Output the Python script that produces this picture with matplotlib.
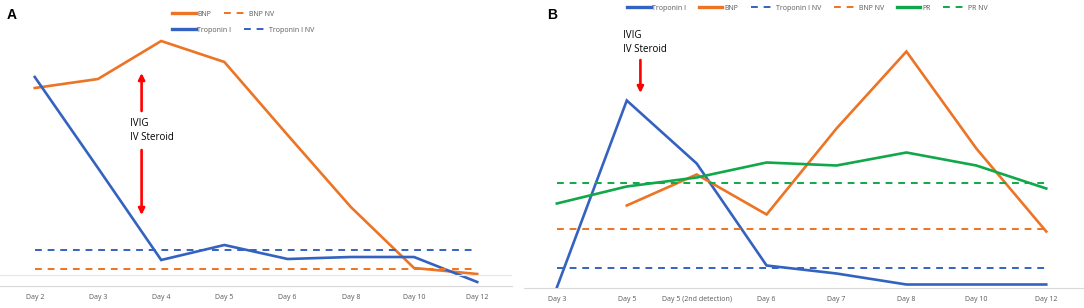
import matplotlib
matplotlib.use("Agg")
from matplotlib import pyplot as plt
from matplotlib.lines import Line2D
import numpy as np

plt.rcParams['font.family'] = ['Open Sans', 'DejaVu Sans']

# Panel A data (arbitrary units)
days_a = ['Day 2', 'Day 3', 'Day 4', 'Day 5', 'Day 6', 'Day 8', 'Day 10', 'Day 12']
bnp_a = [198, 207, 245, 224, 151, 79, 18, 12]
tropo_a = [209, 118, 26, 41, 27, 29, 29, 4]
tropo_nv_a = 36
bnp_nv_a = 17

# Panel B data
days_b = ['Day 3', 'Day 5', 'Day 5 (2nd detection)', 'Day 6', 'Day 7', 'Day 8', 'Day 10', 'Day 12']
tropo_b = [0, 187, 124, 22, 14, 3, 3, 3]
bnp_b = [np.nan, 82, 113, 73, 159, 236, 139, 56]
pr_b = [84, 101, 110, 125, 122, 135, 122, 99]
tropo_nv_b = 20
bnp_nv_b = 59
pr_nv_b = 105

BLUE = '#3462C0'
ORANGE = '#EC7424'
GREEN = '#10A84A'
RED = '#FF0000'
W, H = 1084, 308

fig = plt.figure(figsize=(W / 100, H / 100), dpi=100)


def px_axes(x0, x1, ytop, ybot):
    return fig.add_axes([x0 / W, 1 - ybot / H, (x1 - x0) / W, (ybot - ytop) / H])


def style(ax, labels, xlim, ytop):
    x = np.arange(len(labels))
    ax.set_xticks(x)
    ax.set_xticklabels(labels, fontsize=5, color='#595959')
    ax.tick_params(axis='x', length=0, pad=6)
    ax.set_yticks([])
    ax.set_xlim(xlim)
    ax.set_ylim(0, ytop)
    for s in ['top', 'right', 'left']:
        ax.spines[s].set_visible(False)
    ax.spines['bottom'].set_color('#D9D9D9')
    ax.spines['bottom'].set_linewidth(0.8)
    ax.patch.set_alpha(0)


dash = (3.5, 3)
arrow_kw = dict(arrowstyle='-|>', color=RED, lw=1.9, mutation_scale=9, shrinkA=0, shrinkB=0)

# ---- Panel A
axa = px_axes(0, 512, 5, 286)
xa = np.arange(len(days_a))
axa.plot(xa, bnp_a, color=ORANGE, lw=1.9, solid_joinstyle='miter')
axa.plot(xa, tropo_a, color=BLUE, lw=1.9, solid_joinstyle='miter')
axa.plot([0, 7], [tropo_nv_a] * 2, color=BLUE, lw=1.4, dashes=dash)
axa.plot([0, 7], [bnp_nv_a] * 2, color=ORANGE, lw=1.4, dashes=dash)
axa.axhline(11, color='#E6E6E6', lw=0.8)
style(axa, days_a, (-0.55, 7.55), 281)

arrow_x = 1.69
axa.annotate('', xy=(arrow_x, 286 - 73), xytext=(arrow_x, 286 - 111), arrowprops=arrow_kw)
axa.annotate('', xy=(arrow_x, 286 - 215), xytext=(arrow_x, 286 - 150), arrowprops=arrow_kw)
axa.text(1.50, 286 - 123, 'IVIG', fontsize=7, va='center', ha='left')
axa.text(1.50, 286 - 137, 'IV Steroid', fontsize=7, va='center', ha='left')

leg_kw = dict(fontsize=5, frameon=False, handlelength=3.4, handletextpad=0.25,
              columnspacing=1.8, labelcolor='#595959', borderaxespad=0, borderpad=0)
fig.legend(handles=[Line2D([], [], color=ORANGE, lw=2.4),
                    Line2D([], [], color=ORANGE, lw=1.4, dashes=dash)],
           labels=['BNP', 'BNP NV'], ncol=2, loc='center left',
           bbox_to_anchor=(172 / W, 1 - 14 / H), **leg_kw)
fig.legend(handles=[Line2D([], [], color=BLUE, lw=2.4),
                    Line2D([], [], color=BLUE, lw=1.4, dashes=dash)],
           labels=['Troponin I', 'Troponin I NV'], ncol=2, loc='center left',
           bbox_to_anchor=(172 / W, 1 - 30 / H), **leg_kw)

fig.text(7 / W, 1 - 15 / H, 'A', fontsize=10, fontweight='bold', va='center',
         family='Liberation Sans')

# ---- Panel B
axb = px_axes(524, 1084, 5, 287.5)
xb = np.arange(len(days_b))
axb.plot(xb, tropo_b, color=BLUE, lw=1.9, solid_joinstyle='miter')
axb.plot(xb, bnp_b, color=ORANGE, lw=1.9, solid_joinstyle='miter')
axb.plot([0, 7], [tropo_nv_b] * 2, color=BLUE, lw=1.4, dashes=dash)
axb.plot([0, 7], [bnp_nv_b] * 2, color=ORANGE, lw=1.4, dashes=dash)
axb.plot(xb, pr_b, color=GREEN, lw=1.9, solid_joinstyle='miter')
axb.plot([0, 7], [pr_nv_b] * 2, color=GREEN, lw=1.4, dashes=dash)
style(axb, days_b, (-0.47, 7.54), 282.5)

bx = 1.195
axb.annotate('', xy=(bx, 287.5 - 93), xytext=(bx, 287.5 - 60), arrowprops=arrow_kw)
axb.text(0.94, 287.5 - 35, 'IVIG', fontsize=7, va='center', ha='left')
axb.text(0.94, 287.5 - 49, 'IV Steroid', fontsize=7, va='center', ha='left')

fig.legend(handles=[Line2D([], [], color=BLUE, lw=2.4),
                    Line2D([], [], color=ORANGE, lw=2.4),
                    Line2D([], [], color=BLUE, lw=1.4, dashes=dash),
                    Line2D([], [], color=ORANGE, lw=1.4, dashes=dash),
                    Line2D([], [], color=GREEN, lw=2.4),
                    Line2D([], [], color=GREEN, lw=1.4, dashes=dash)],
           labels=['Troponin I', 'BNP', 'Troponin I NV', 'BNP NV', 'PR', 'PR NV'],
           ncol=6, loc='center left', bbox_to_anchor=(627 / W, 1 - 8 / H), **leg_kw)

fig.text(547 / W, 1 - 15 / H, 'B', fontsize=10, fontweight='bold', va='center',
         family='Liberation Sans')

fig.savefig('out.png', dpi=100)
